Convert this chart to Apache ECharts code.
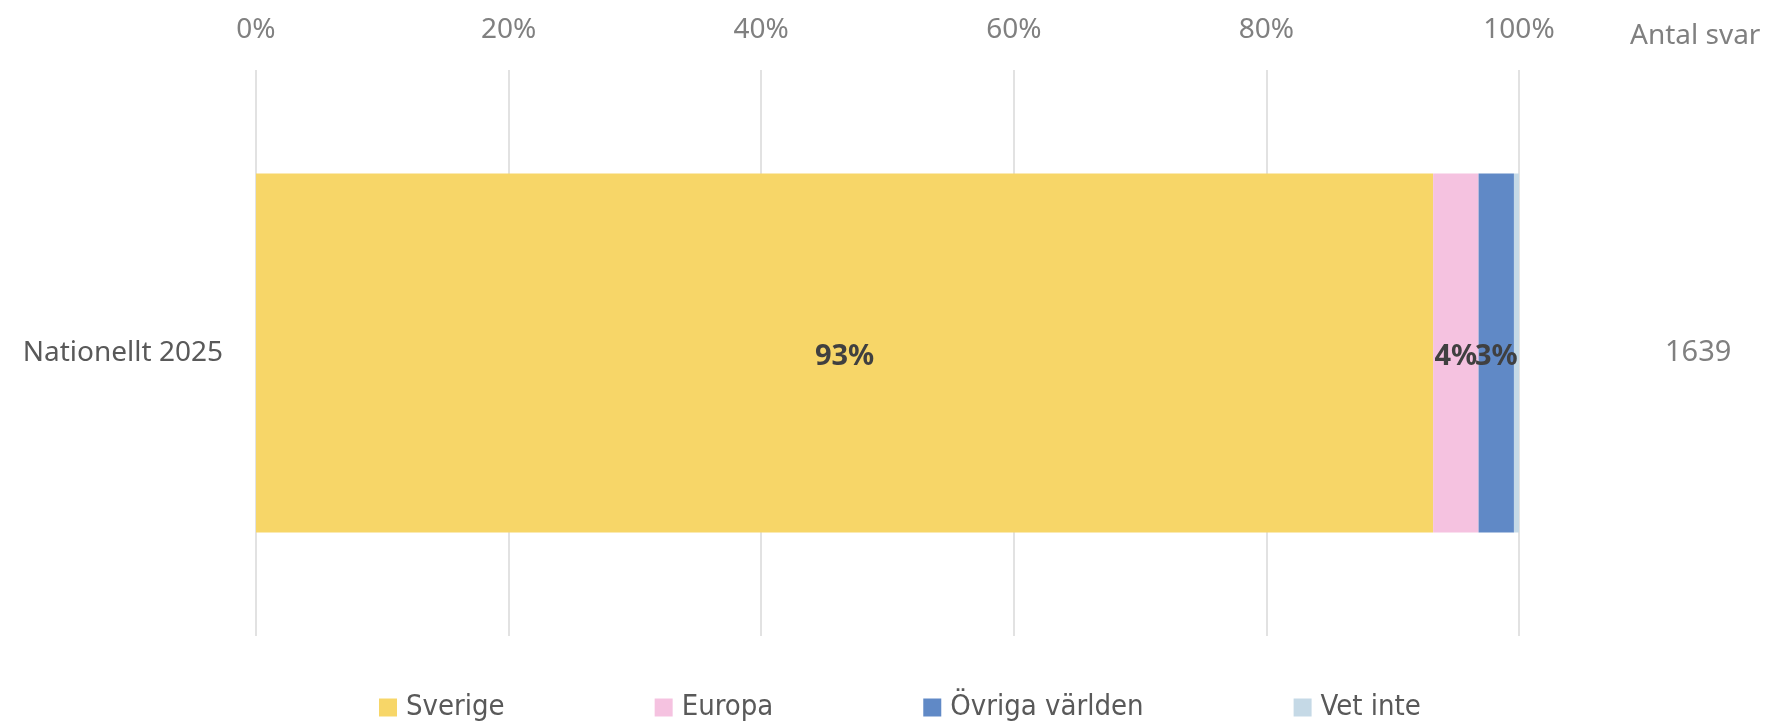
<!DOCTYPE html>
<html>
<head>
<meta charset="utf-8">
<script src="https://cdn.jsdelivr.net/npm/echarts@6/dist/echarts.min.js"></script>
<style>
  html, body { margin: 0; padding: 0; background: #ffffff; }
  #chart { width: 1771px; height: 721px; }
</style>
</head>
<body>
<div id="chart"></div>
<script>
// Origin of respondents, share per answer (percent)
const categories = ['Nationellt 2025'];
const answerCounts = [1639];
const seriesNames = ['Sverige', 'Europa', 'Övriga världen', 'Vet inte'];
const sverige = [93.2];
const europa = [3.6];
const ovrigaVarlden = [2.8];
const vetInte = [0.4];
const percentTicks = [0, 20, 40, 60, 80, 100];

const colors = ['#F7D668', '#F5C2E0', '#6089C6', '#C5D9E6'];
const values = [sverige, europa, ovrigaVarlden, vetInte];
const FONT = '"Noto Sans", "Liberation Sans", sans-serif';
const LEGEND_FONT = '"Liberation Sans Narrow", "DejaVu Sans Condensed", sans-serif';

const chart = echarts.init(document.getElementById('chart'));

const series = seriesNames.map((name, i) => ({
  name: name,
  type: 'bar',
  stack: 'total',
  barWidth: '63.4%',
  data: values[i],
  itemStyle: { color: colors[i] },
  label: {
    show: i < 3,
    position: 'inside',
    formatter: p => Math.round(p.value) + '%',
    color: '#404040',
    fontWeight: 'bold',
    fontSize: 29,
    fontFamily: FONT,
    offset: [0, 4]
  },
  emphasis: { disabled: true }
}));

chart.setOption({
  animation: false,
  backgroundColor: '#ffffff',
  grid: { left: 256, right: 252, top: 70, bottom: 85, containLabel: false },
  legend: {
    data: seriesNames,
    left: 374,
    top: 688,
    itemWidth: 18,
    itemHeight: 18,
    itemGap: 150,
    icon: 'rect',
    textStyle: { color: '#595959', fontSize: 29, fontFamily: LEGEND_FONT, padding: [0, 0, 0, 4] }
  },
  xAxis: {
    type: 'value',
    position: 'top',
    min: percentTicks[0],
    max: percentTicks[percentTicks.length - 1],
    interval: percentTicks[1] - percentTicks[0],
    axisLine: { show: false },
    axisTick: { show: false },
    splitLine: { lineStyle: { color: '#D9D9D9', width: 1.5 } },
    axisLabel: {
      formatter: '{value}%',
      color: '#808080',
      fontSize: 28,
      fontFamily: FONT,
      margin: 26
    }
  },
  yAxis: [
    {
      type: 'category',
      data: categories,
      inverse: true,
      axisLine: { show: false },
      axisTick: { show: false },
      axisLabel: { color: '#595959', fontSize: 28, fontFamily: FONT, margin: 33, padding: [10, 0, 0, 0] }
    },
    {
      type: 'category',
      data: answerCounts.map(String),
      inverse: true,
      position: 'right',
      name: 'Antal svar',
      nameLocation: 'start',
      nameGap: 34,
      nameTextStyle: {
        color: '#808080',
        fontSize: 28,
        fontFamily: FONT,
        align: 'left',
        verticalAlign: 'middle',
        padding: [0, 0, 0, 111]
      },
      axisLine: { show: false },
      axisTick: { show: false },
      axisLabel: { color: '#808080', fontSize: 29, fontFamily: FONT, margin: 146, align: 'left', padding: [10, 0, 0, 0] }
    }
  ],
  series: series
});
</script>
</body>
</html>
